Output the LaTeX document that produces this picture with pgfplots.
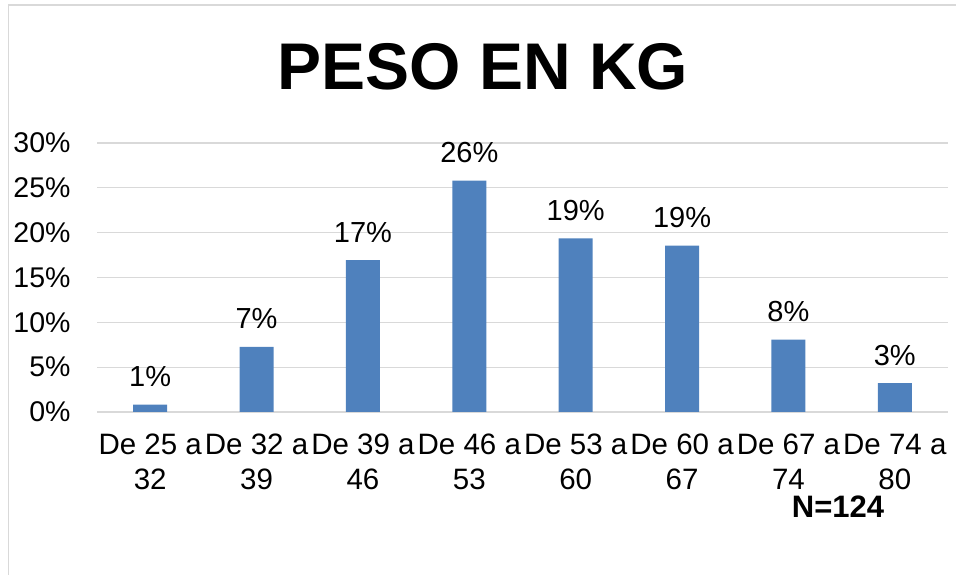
\documentclass[border=0pt]{standalone}
\usepackage{fontspec}
\setmainfont{Liberation Sans}
\usepackage{pgfplots}
\pgfplotsset{compat=1.18}
\definecolor{barblue}{HTML}{4F81BD}
\definecolor{gridgray}{HTML}{D9D9D9}
\begin{document}
\begin{tikzpicture}[x=1pt,y=1pt]
\path[use as bounding box] (0,0) rectangle (956,575);
\draw[gridgray, line width=1.8pt] (8.5,0) -- (8.5,570) -- (956,570);
\node[font=\fontsize{66}{78}\selectfont\bfseries, anchor=base, inner sep=0pt] at (483,485) {PESO EN KG};
\begin{axis}[
  at={(97pt,163pt)}, anchor=south west, scale only axis,
  width=851pt, height=269pt,
  ymin=0, ymax=30, xmin=-0.5, xmax=7.5,
  ybar, bar width=34pt,
  ytick={0,5,...,30},
  yticklabel={\pgfmathprintnumber{\tick}\%},
  /pgf/number format/assume math mode=true,
  ymajorgrids, grid style={gridgray, line width=1.2pt},
  axis line style={draw=none}, tick style={draw=none},
  xtick={0,...,7},
  xticklabels={{De 25 a\\32},{De 32 a\\39},{De 39 a\\46},{De 46 a\\53},{De 53 a\\60},{De 60 a\\67},{De 67 a\\74},{De 74 a\\80}},
  xticklabel style={align=center, font=\fontsize{29.5}{35}\selectfont, yshift=-14pt},
  yticklabel style={font=\fontsize{28.5}{34}\selectfont, xshift=-23pt},
  nodes near coords={\pgfmathprintnumber[fixed,precision=0]{\pgfplotspointmeta}\%},
  nodes near coords style={font=\fontsize{29}{34}\selectfont, anchor=base, yshift=18pt, inner sep=0pt, text=black},
]
\addplot[fill=barblue, draw=none] coordinates {
(0,0.81) (1,7.26) (2,16.94) (3,25.81) (4,19.35) (5,18.55) (6,8.06) (7,3.23)};
\end{axis}
\node[font=\fontsize{31}{36}\selectfont\bfseries, anchor=base, inner sep=0pt] at (838,57) {N=124};
\end{tikzpicture}
\end{document}
